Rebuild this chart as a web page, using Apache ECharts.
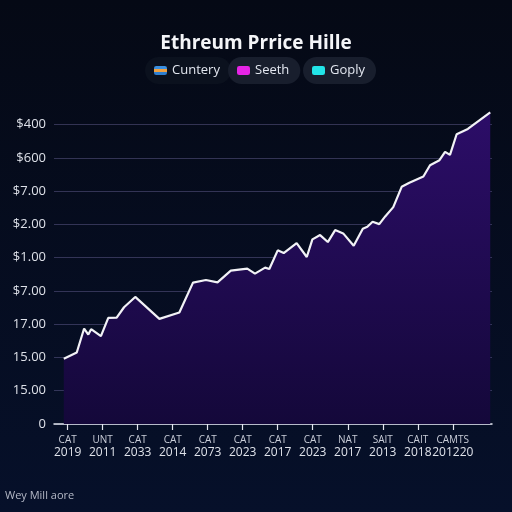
<!DOCTYPE html>
<html>
<head>
<meta charset="utf-8">
<script src="https://cdn.jsdelivr.net/npm/echarts@6/dist/echarts.min.js"></script>
<style>html,body{margin:0;padding:0;background:#060a1a;}#c{width:512px;height:512px;}</style>
</head>
<body>
<div id="c"></div>
<script>
// ---- data ----
var yTickLabels = ['0', '15.00', '15.00', '17.00', '$7.00', '$1.00', '$2.00', '$7.00', '$600', '$400'];
var xTickTop = ['CAT', 'UNT', 'CAT', 'CAT', 'CAT', 'CAT', 'CAT', 'CAT', 'NAT', 'SAIT', 'CAIT', 'CAMTS'];
var xTickYear = ['2019', '2011', '2033', '2014', '2073', '2023', '2017', '2023', '2017', '2013', '2018', '201220'];
var priceX = [-0.11, 0.26, 0.47, 0.59, 0.67, 0.95, 1.16, 1.40, 1.61, 1.93, 2.62, 3.19, 3.58, 3.95, 4.28, 4.66, 5.13, 5.35, 5.64, 5.76, 6.00, 6.17, 6.54, 6.83, 6.99, 7.21, 7.43, 7.64, 7.87, 8.17, 8.43, 8.56, 8.71, 8.90, 9.07, 9.30, 9.54, 9.76, 10.16, 10.35, 10.62, 10.78, 10.92, 11.11, 11.43, 12.07];
var priceY = [1.96, 2.15, 2.87, 2.69, 2.85, 2.64, 3.19, 3.20, 3.51, 3.82, 3.16, 3.35, 4.25, 4.33, 4.26, 4.61, 4.67, 4.52, 4.70, 4.66, 5.22, 5.14, 5.44, 5.02, 5.55, 5.68, 5.47, 5.83, 5.73, 5.36, 5.87, 5.93, 6.08, 6.01, 6.24, 6.52, 7.13, 7.25, 7.44, 7.78, 7.93, 8.18, 8.09, 8.71, 8.87, 9.37];
var legendNames = ['Cuntery', 'Seeth', 'Goply'];
var titleText = 'Ethreum Prrice Hille';
var footText = 'Wey Mill aore';

var tickIdx = xTickTop.map(function (_, i) { return i; });
var yIdx = yTickLabels.map(function (_, i) { return i; });
var seriesData = priceX.map(function (x, i) { return [x, priceY[i]]; });

var chart = echarts.init(document.getElementById('c'));
var font = 'Open Sans, DejaVu Sans, sans-serif';
function legendBox(name, left, bg, iconStyle) {
  return {
    data: [{ name: name, icon: 'roundRect', itemStyle: iconStyle }],
    left: left, top: 57,
    backgroundColor: bg, borderRadius: 14,
    padding: [7, 11, 7, 9],
    itemWidth: 13, itemHeight: 9, itemGap: 0,
    textStyle: { color: '#e2e6ef', fontSize: 13, fontFamily: font },
    selectedMode: false
  };
}
chart.setOption({
  backgroundColor: new echarts.graphic.LinearGradient(0, 0, 0, 1, [
    { offset: 0, color: '#050915' }, { offset: 1, color: '#06102a' }
  ]),
  title: {
    text: titleText, left: 'center', top: 29,
    textStyle: { color: '#f4f5f8', fontSize: 19, fontWeight: 'bold', fontFamily: font }
  },
  legend: [
    legendBox(legendNames[0], 145, '#0b111e', {
      color: new echarts.graphic.LinearGradient(0, 0, 0, 1, [
        { offset: 0, color: '#3b8fe0' }, { offset: 0.35, color: '#3b8fe0' },
        { offset: 0.36, color: '#f0a040' }, { offset: 0.64, color: '#f0a040' },
        { offset: 0.65, color: '#2f7fd0' }, { offset: 1, color: '#2f7fd0' }
      ])
    }),
    legendBox(legendNames[1], 228, '#181e2d', { color: '#e624e6' }),
    legendBox(legendNames[2], 303, '#181e2d', { color: '#22e4e8' })
  ],
  grid: { left: 54, right: 20, top: 108, bottom: 88, containLabel: false },
  xAxis: {
    type: 'value', min: -0.39, max: 12.12,
    axisLine: { show: true, lineStyle: { color: '#e4e7ef', width: 1.5 } },
    axisTick: { show: true, customValues: tickIdx, length: 6, lineStyle: { color: '#e4e7ef', width: 1.2 } },
    splitLine: { show: false },
    axisLabel: {
      customValues: tickIdx, margin: 10,
      formatter: function (v) {
        var i = Math.round(v);
        return '{a|' + xTickTop[i] + '}\n{b|' + xTickYear[i] + '}';
      },
      rich: {
        a: { color: '#c9cdd8', fontSize: 10, lineHeight: 12, fontFamily: font },
        b: { color: '#dfe2ea', fontSize: 12, lineHeight: 13, fontFamily: font }
      }
    }
  },
  yAxis: {
    type: 'value', min: 0, max: 9.5,
    axisLine: { show: false },
    axisTick: { show: false, customValues: yIdx },
    splitLine: { lineStyle: { color: 'rgba(120,112,170,0.4)', width: 1.2 } },
    axisLabel: {
      customValues: yIdx,
      margin: 8, color: '#dde0e8', fontSize: 13, fontFamily: font,
      formatter: function (v) { return yTickLabels[Math.round(v)]; }
    }
  },
  series: [
    {
      name: legendNames[0], type: 'line', data: seriesData, symbol: 'none', clip: false,
      lineStyle: { color: '#f2f2f6', width: 2.2 },
      itemStyle: { color: '#f2f2f6' },
      areaStyle: {
        color: new echarts.graphic.LinearGradient(0, 0, 0, 1, [
          { offset: 0, color: '#2c0d68' }, { offset: 1, color: '#14083a' }
        ]),
        opacity: 1
      },
      z: 3
    },
    { name: legendNames[1], type: 'line', data: [], itemStyle: { color: '#e624e6' } },
    { name: legendNames[2], type: 'line', data: [], itemStyle: { color: '#22e4e8' } }
  ],
  graphic: [
    { type: 'text', left: 5, top: 490, style: { text: footText, fill: '#b4b8c6', fontSize: 11, fontFamily: font } }
  ]
});
</script>
</body>
</html>
